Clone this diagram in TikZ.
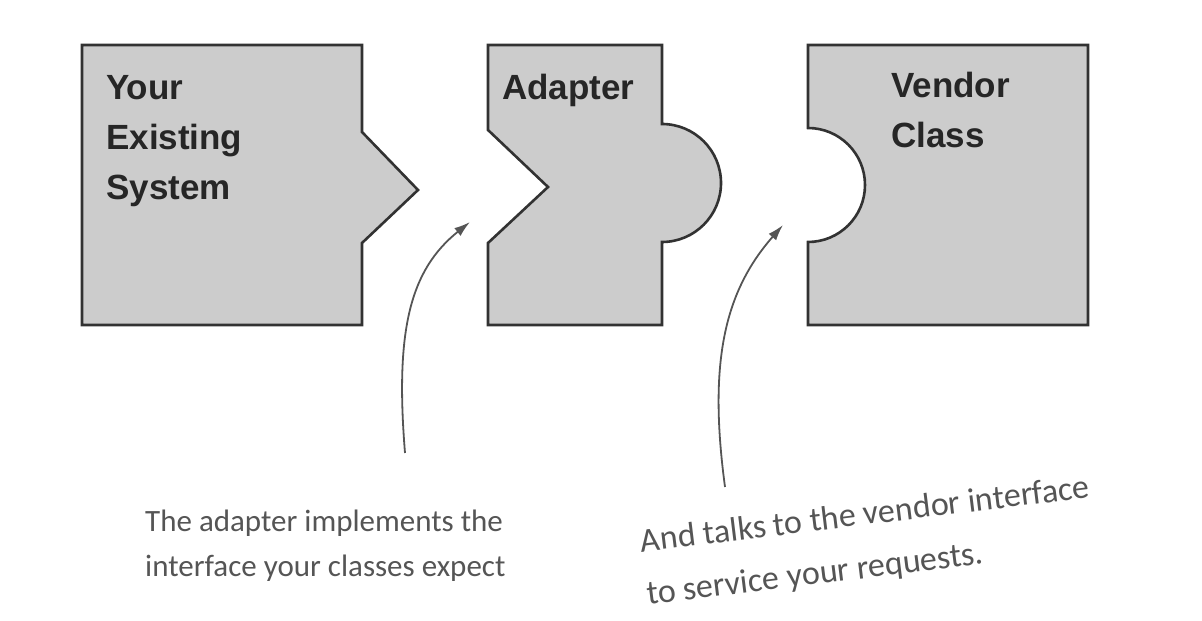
\documentclass[tikz,border=0pt]{standalone}
\usepackage{fontspec}
\setmainfont{Liberation Sans}
\newfontfamily\handfont{Carlito}
\usepackage{tikz}
\definecolor{piecegray}{RGB}{204,204,204}
\definecolor{edgegray}{RGB}{50,50,50}
\definecolor{notegray}{RGB}{85,85,85}
\usetikzlibrary{arrows, arrows.meta}

\begin{document}
\begin{tikzpicture}[x=1pt, y=1pt, >={Latex[length=16pt,width=10pt]},   %pixel units, y from below
					piece/.style={draw=edgegray, fill=piecegray, line width=2.6pt, line join=miter},
					title/.style={font=\fontsize{35}{50}\selectfont\bfseries, text=black!85, align=left, inner sep=0pt},
					note/.style={font=\handfont\fontsize{31}{45}\selectfont, text=notegray, align=left, inner sep=0pt},
					pointer/.style={->, draw=notegray, line width=1.8pt}]
					\useasboundingbox (0,0) rectangle (1202,621);
					% the three pieces
					\draw[piece] (82,576) -- (362,576) -- (362,489) -- (418,431) -- (362,378) -- (362,296) -- (82,296) -- cycle;
					\draw[piece] (488,576) -- (662,576) -- (662,497) arc (90:-90:59) -- (662,296) -- (488,296) -- (488,378) -- (548,434) -- (488,491) -- cycle;
					\draw[piece] (808,576) -- (1088,576) -- (1088,296) -- (808,296) -- (808,379) arc (-90:90:57) -- cycle;
					% base = last line
					\node[title, anchor=base west] (existing) at (106,421) {Your\\Existing\\System};
					\node[title, anchor=base west] (adapter) at (502,521) {Adapter};
					\node[title, anchor=base west] (vendor) at (891,473) {Vendor\\Class};
					% notes and pointers
					\node[note, anchor=base west] (implnote) at (145,44) {The adapter implements the\\interface your classes expect};
					\node[note, anchor=base west, rotate=7, font=\handfont\fontsize{34}{53}\selectfont] (talknote) at (648,16) {And talks to the vendor interface\\to service your requests.};
					\coordinate (implfoot) at (405,168);
					\coordinate (impltip) at (470,399);
					\coordinate (talkfoot) at (725,134);
					\coordinate (talktip) at (783,396);
					\draw[pointer] (implfoot) .. controls (395,291) and (410,351) .. (impltip);
					\draw[pointer] (talkfoot) .. controls (708,260) and (725,330) .. (talktip);
				\end{tikzpicture}
\end{document}
